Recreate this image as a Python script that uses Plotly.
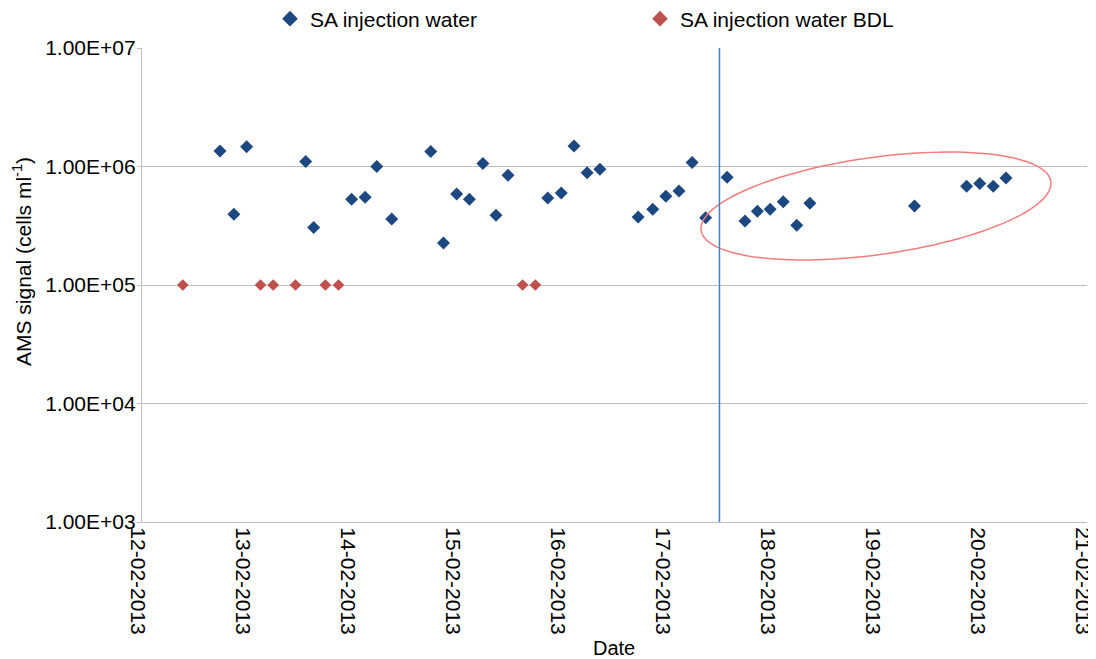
import numpy as np
import plotly.graph_objects as go

# SA injection water (detected)
sa_dates = [
    "2013-02-12 17:50", "2013-02-12 21:00", "2013-02-12 23:55", "2013-02-13 13:25",
    "2013-02-13 15:15", "2013-02-13 23:55", "2013-02-14 03:00", "2013-02-14 05:40",
    "2013-02-14 09:05", "2013-02-14 18:00", "2013-02-14 20:55", "2013-02-14 23:55",
    "2013-02-15 02:50", "2013-02-15 05:55", "2013-02-15 08:55", "2013-02-15 11:40",
    "2013-02-15 20:45", "2013-02-15 23:50", "2013-02-16 02:45", "2013-02-16 05:45",
    "2013-02-16 08:40", "2013-02-16 17:25", "2013-02-16 20:45", "2013-02-16 23:45",
    "2013-02-17 02:45", "2013-02-17 05:45", "2013-02-17 08:50", "2013-02-17 13:45",
    "2013-02-17 17:50", "2013-02-17 20:40", "2013-02-17 23:35", "2013-02-18 02:35",
    "2013-02-18 05:40", "2013-02-18 08:40", "2013-02-19 08:35", "2013-02-19 20:30",
    "2013-02-19 23:30", "2013-02-20 02:35", "2013-02-20 05:30",
]
sa_values = [
    1.35e6, 3.95e5, 1.47e6, 1.10e6,
    3.05e5, 5.3e5, 5.5e5, 1.0e6,
    3.6e5, 1.34e6, 2.26e5, 5.86e5,
    5.28e5, 1.06e6, 3.87e5, 8.44e5,
    5.42e5, 5.97e5, 1.49e6, 8.87e5,
    9.5e5, 3.75e5, 4.36e5, 5.6e5,
    6.2e5, 1.08e6, 3.7e5, 8.1e5,
    3.47e5, 4.19e5, 4.36e5, 5.05e5,
    3.19e5, 4.89e5, 4.64e5, 6.8e5,
    7.2e5, 6.8e5, 8.0e5,
]

# SA injection water below detection limit
bdl_dates = [
    "2013-02-12 09:20", "2013-02-13 03:05", "2013-02-13 06:00", "2013-02-13 11:05",
    "2013-02-13 17:55", "2013-02-13 20:55", "2013-02-15 15:00", "2013-02-15 17:55",
]
bdl_values = [1e5] * len(bdl_dates)

y_ticks = [1e3, 1e4, 1e5, 1e6, 1e7]
y_ticktext = ["1.00E+03", "1.00E+04", "1.00E+05", "1.00E+06", "1.00E+07"]

marker_line_date = "2013-02-17 12:00"

font = "Arial, Liberation Sans, sans-serif"

# the page body adds an 8px offset, so work in screen pixels and shift
OFF = 8
L, R, T, B = 142 - OFF, 1087 - OFF, 48 - OFF, 522 - OFF
W, H = 1096 - OFF, 659 - OFF


def paper_x(sx):
    return (sx - OFF - L) / (R - L)


def paper_y(sy):
    return (B - (sy - OFF)) / (B - T)


fig = go.Figure()
fig.add_trace(go.Scatter(
    x=sa_dates, y=sa_values, mode="markers", name="SA injection water",
    marker=dict(symbol="diamond", size=10, color="#1d4780"),
    legend="legend", showlegend=True,
))
fig.add_trace(go.Scatter(
    x=bdl_dates, y=bdl_values, mode="markers", name="SA injection water BDL",
    marker=dict(symbol="diamond", size=9, color="#c0504d"),
    legend="legend2", showlegend=True,
))

# ellipse around the late points (screen geometry -> paper coords)
cx, cy, a, b, th = 876, 206, 176.6, 48.6, np.radians(7.94)
t = np.linspace(0, 2 * np.pi, 120)
ex = cx + a * np.cos(t) * np.cos(th) - b * np.sin(t) * np.sin(th)
ey = cy - (a * np.cos(t) * np.sin(th) + b * np.sin(t) * np.cos(th))
path = "M " + " L ".join(f"{paper_x(u):.4f},{paper_y(v):.4f}" for u, v in zip(ex, ey)) + " Z"

fig.add_shape(type="path", path=path, xref="paper", yref="paper",
              line=dict(color="#f47c7c", width=1.5))
fig.add_shape(type="line", x0=marker_line_date, x1=marker_line_date, y0=0, y1=1,
              xref="x", yref="paper", line=dict(color="#4a7ebb", width=1.5))

fig.update_xaxes(
    type="date", range=["2013-02-12", "2013-02-21 00:01"], dtick=86400000,
    tickformat="%d-%m-%Y", tickangle=90, showgrid=False,
    showline=True, linecolor="#bfbfbf", linewidth=1.3,
    tickfont=dict(family=font, size=21, color="black"), ticks="",
    automargin=False, ticklabeloverflow="allow", ticklabelshift=-4,
)
fig.update_yaxes(
    type="log", range=[3, 7], tickvals=y_ticks, ticktext=y_ticktext,
    gridcolor="#bfbfbf", gridwidth=1.3, showline=True, linecolor="#bfbfbf",
    linewidth=1.3, ticks="outside", ticklen=4, tickcolor="#bfbfbf",
    ticklabelstandoff=-3, automargin=False,
    tickfont=dict(family=font, size=21, color="black"),
)

fig.add_annotation(text="AMS signal (cells ml<sup>-1</sup>)", textangle=-90,
                   xref="paper", yref="paper", x=paper_x(22), y=paper_y(262),
                   xanchor="center", yanchor="middle",
                   showarrow=False, font=dict(family=font, size=21, color="black"))
fig.add_annotation(text="Date", xref="paper", yref="paper",
                   x=paper_x(614), y=paper_y(648), xanchor="center", yanchor="middle",
                   showarrow=False, font=dict(family=font, size=20, color="black"))

leg = dict(orientation="h", xanchor="left", yanchor="middle", y=paper_y(19),
           font=dict(family=font, size=21, color="black"), bgcolor="rgba(0,0,0,0)",
           itemsizing="constant")
fig.update_layout(
    width=W, height=H, showlegend=True,
    margin=dict(l=L, r=W - R, t=T, b=H - B, autoexpand=False),
    plot_bgcolor="white", paper_bgcolor="white",
    legend=dict(leg, x=paper_x(270)),
    legend2=dict(leg, x=paper_x(640)),
)

fig.write_html("out.html")
